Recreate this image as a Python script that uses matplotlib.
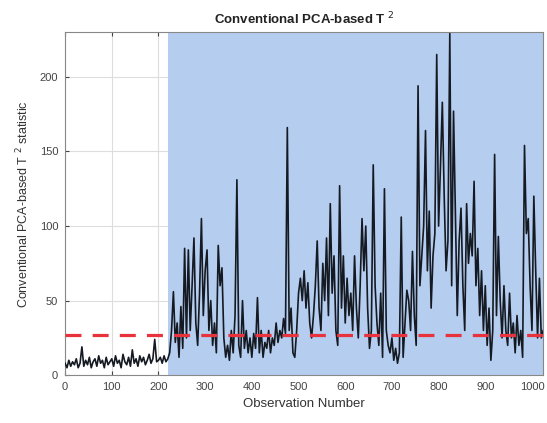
import numpy as np
import matplotlib
matplotlib.use('Agg')
import matplotlib.pyplot as plt

plt.rcParams['font.family'] = ['Liberation Sans', 'DejaVu Sans']

step = 4
t2_values = [
    # 0-99
    8, 5, 10, 6, 9, 7, 11, 5, 8, 19, 6, 10, 7, 12, 5, 9, 11, 6, 13, 8, 10, 5, 12, 7, 9,
    # 100-199
    11, 6, 13, 8, 10, 5, 14, 9, 7, 12, 6, 17, 8, 11, 6, 13, 9, 12, 7, 10, 14, 8, 11, 24, 9,
    # 200-299
    10, 12, 8, 13, 9, 11, 15, 30, 56, 22, 35, 12, 46, 18, 85, 25, 84, 30, 60, 92, 35, 20, 55, 105, 40,
    # 300-399
    70, 84, 30, 50, 20, 35, 15, 87, 60, 72, 25, 12, 20, 10, 30, 15, 40, 131, 20, 12, 50, 18, 30, 15, 25,
    # 400-499
    12, 28, 18, 52, 15, 30, 12, 22, 18, 30, 15, 25, 20, 35, 22, 30, 25, 38, 28, 166, 30, 45, 15, 12, 30,
    # 500-599
    55, 65, 50, 70, 45, 62, 35, 25, 40, 60, 90, 45, 30, 75, 50, 92, 40, 115, 55, 80, 30, 20, 127, 45, 80,
    # 600-699
    35, 65, 40, 55, 30, 80, 45, 25, 60, 105, 70, 100, 45, 18, 30, 141, 60, 35, 20, 55, 12, 125, 30, 20, 15,
    # 700-799
    25, 10, 18, 8, 15, 106, 12, 35, 57, 50, 30, 83, 40, 20, 194, 60, 80, 100, 164, 70, 110, 45, 80, 95, 215,
    # 800-899
    100, 140, 183, 120, 70, 90, 229, 60, 177, 110, 40, 90, 112, 60, 30, 115, 75, 95, 80, 130, 60, 85, 40, 70, 30,
    # 900-999
    60, 20, 45, 10, 30, 148, 40, 93, 50, 25, 60, 30, 20, 55, 25, 35, 15, 40, 20, 30, 12, 154, 95, 105, 60,
    # 1000-1024
    30, 120, 70, 25, 65, 25, 30,
]
observations = np.arange(len(t2_values)) * step

threshold = 27.2
fault_start = 220
n_obs = 1024

fig = plt.figure(figsize=(5.47, 4.23), dpi=100)
ax = fig.add_axes([0.119, 0.113, 0.874, 0.811])

ax.axvspan(fault_start, n_obs, color='#b5cdef', zorder=1, lw=0)
ax.plot(observations, t2_values, color='#151a22', linewidth=1.2, zorder=3)
ax.axhline(threshold, color='#e8323c', linewidth=2.3, linestyle=(0, (5, 3.5)), zorder=4)

ax.set_xlim(0, n_obs)
ax.set_ylim(0, 230)
ax.set_xticks(np.arange(0, 1001, 100))
ax.set_yticks([0, 50, 100, 150, 200])
ax.grid(True, color='#dddddd', linewidth=0.8, zorder=0)
ax.set_axisbelow(True)
ax.tick_params(direction='in', length=3, labelsize=8, colors='#444444', top=True, pad=5)
for s in ax.spines.values():
    s.set_color('#888888')

ax.set_title('Conventional PCA-based T $^2$', fontsize=9.5, fontweight='bold', color='#222222')
ax.set_xlabel('Observation Number', fontsize=9.5, color='#333333', labelpad=4)
ax.set_ylabel('Conventional PCA-based T $^2$ statistic', fontsize=9, color='#333333', labelpad=6)

fig.savefig('out.png', dpi=100)
